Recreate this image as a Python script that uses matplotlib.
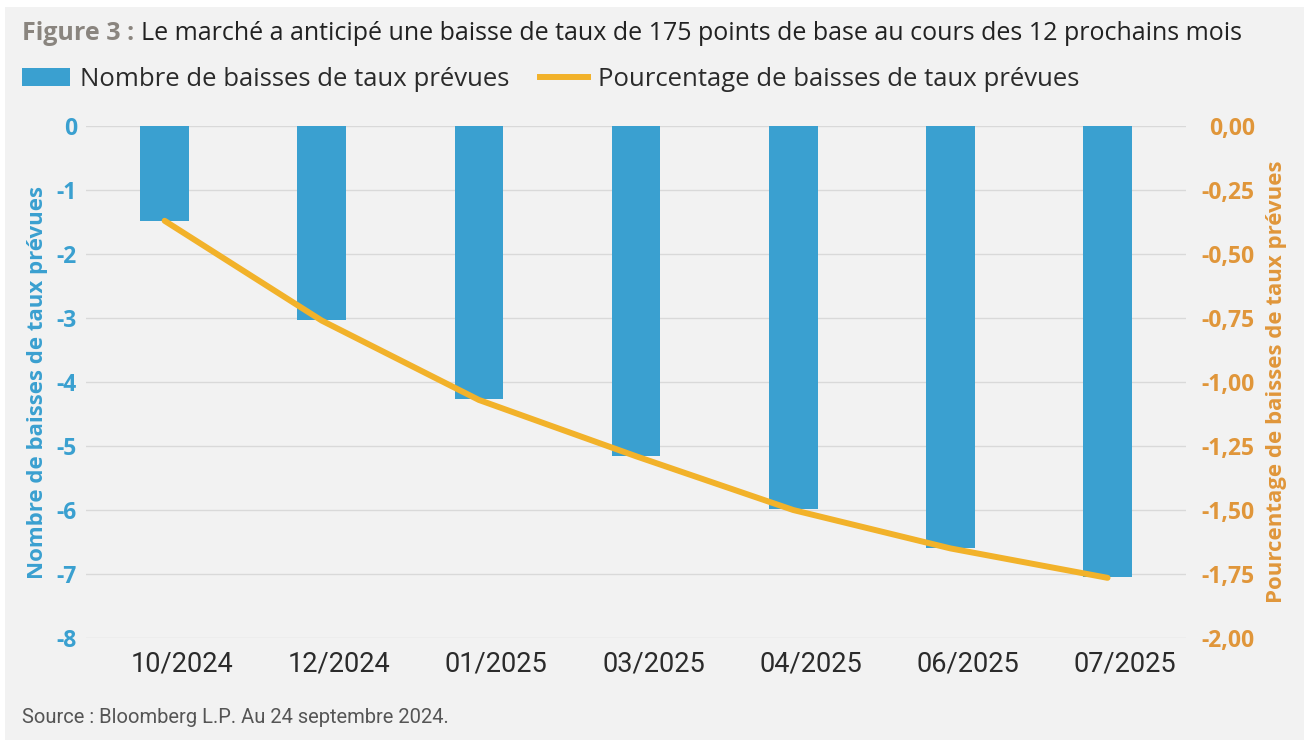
# Bar + line chart: expected rate cuts (count and percentage), two y axes

import matplotlib.pyplot as plt
from matplotlib.patches import Rectangle
from matplotlib.lines import Line2D

plt.rcParams['font.family'] = ['Open Sans', 'DejaVu Sans']

months = ['10/2024', '12/2024', '01/2025', '03/2025', '04/2025', '06/2025', '07/2025']
nb_baisses = [-1.48, -3.03, -4.27, -5.16, -5.98, -6.59, -7.05]
pct_baisses = [-0.37, -0.76, -1.07, -1.29, -1.50, -1.65, -1.765]

left_ticks = [0, -1, -2, -3, -4, -5, -6, -7, -8]
right_ticks = [0, -0.25, -0.5, -0.75, -1.0, -1.25, -1.5, -1.75, -2.0]

blue = '#3aa0d0'
orange = '#f2b22a'
orange_txt = '#e0963a'
bg = '#f2f2f2'

fig = plt.figure(figsize=(13.04, 7.44), dpi=100)
fig.patch.set_facecolor('white')
fig.patches.append(Rectangle((0.004, 0.005), 0.996, 0.985, transform=fig.transFigure,
                             facecolor=bg, edgecolor='none', zorder=-10))

ax = fig.add_axes([0.066, 0.1425, 0.8436, 0.688])
ax.set_facecolor(bg)
x = list(range(len(months)))
ax.bar(x, nb_baisses, width=0.31, color=blue, zorder=2)
ax.set_ylim(-8, 0)
ax.set_xlim(-0.5, 6.5)
ax.set_yticks(left_ticks)
ax.set_yticklabels([str(t) for t in left_ticks])
ax.grid(axis='y', color='#d9d9d9', linewidth=1, zorder=0)
ax.set_axisbelow(True)
for s in ax.spines.values():
    s.set_visible(False)
ax.tick_params(axis='y', colors=blue, labelsize=16.5, length=0, pad=6.5)
for lab in ax.get_yticklabels():
    lab.set_fontweight('bold')
# category labels sit a little right of the bars, as in the source chart
ax.set_xticks([i + 0.11 for i in x])
ax.set_xticklabels(months, family=['Roboto', 'DejaVu Sans'])
ax.tick_params(axis='x', colors='#2b2b2b', labelsize=19.5, length=0, pad=9)
ax.set_ylabel('Nombre de baisses de taux prévues', color=blue, fontsize=16,
              fontweight='bold', labelpad=6)

ax2 = ax.twinx()
ax2.plot(x, pct_baisses, color=orange, linewidth=4.3, solid_capstyle='round', zorder=3)
ax2.set_ylim(-2, 0)
ax2.set_yticks(right_ticks)
ax2.set_yticklabels([f'{t:.2f}'.replace('.', ',') for t in right_ticks])
for s in ax2.spines.values():
    s.set_visible(False)
ax2.tick_params(axis='y', colors=orange_txt, labelsize=16.5, length=0, pad=49.5)
for lab in ax2.get_yticklabels():
    lab.set_fontweight('bold')
    lab.set_horizontalalignment('right')
ax2.set_ylabel('Pourcentage de baisses de taux prévues', color=orange_txt, fontsize=16,
               fontweight='bold', labelpad=8)

# title
t1 = fig.text(0.017, 0.9556, 'Figure 3 : ', color='#8a857f', fontsize=18,
              fontweight='bold', va='center', ha='left')
fig.canvas.draw()
bb = t1.get_window_extent()
fig.text(bb.x1 / fig.bbox.width, 0.9556,
         'Le marché a anticipé une baisse de taux de 175 points de base au cours des 12 prochains mois',
         color='#222222', fontsize=18, va='center', ha='left')

# legend
handles = [Rectangle((0, 0), 1, 1, facecolor=blue, edgecolor='none'),
           Line2D([0], [0], color=orange, linewidth=4.3)]
fig.legend(handles, ['Nombre de baisses de taux prévues', 'Pourcentage de baisses de taux prévues'],
           loc='center left', bbox_to_anchor=(0.0169, 0.893), ncol=2, frameon=False,
           fontsize=18.5, handlelength=1.87, handleheight=0.7, handletextpad=0.39,
           columnspacing=1.17, borderaxespad=0, borderpad=0, labelcolor='#2b2b2b')

fig.text(0.017, 0.035, 'Source : Bloomberg L.P. Au 24 septembre 2024.', color='#555555',
         fontsize=14.5, va='center', ha='left', family=['Roboto', 'DejaVu Sans'])

plt.savefig('out.png', dpi=100, facecolor=fig.get_facecolor())
